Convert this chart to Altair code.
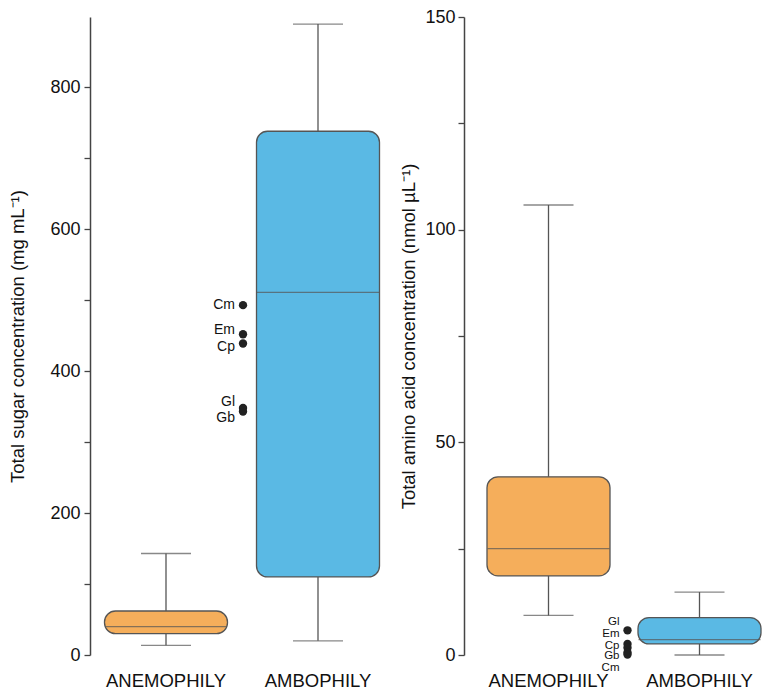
import altair as alt
import pandas as pd

categories = ["ANEMOPHILY", "AMBOPHILY"]
box_colors = ["#F5AE5B", "#5AB9E4"]

# Total sugar (mg mL-1)
sugar_min = [13.6, 20]
sugar_q1 = [30, 110]
sugar_median = [40, 511]
sugar_q3 = [62, 738]
sugar_max = [143, 889]
sugar_point_labels = ["Cm", "Em", "Cp", "Gl", "Gb"]
sugar_point_values = [493, 452, 439, 348, 343]
sugar_label_dy = [0, -4, 4, -6, 6]

# Total amino acid (nmol uL-1)
amino_min = [9.3, 0]
amino_q1 = [18.6, 2.6]
amino_median = [25, 3.6]
amino_q3 = [41.9, 8.8]
amino_max = [105.8, 14.8]
amino_point_labels = ["Gl", "Em", "Cp", "Gb", "Cm"]
amino_point_values = [5.8, 2.6, 1.7, 0.6, 0.1]
amino_label_dy = [-8, -10, -2, 4, 13]

FONT = "Liberation Sans"
LINE = "#555555"


def panel(mins, q1s, meds, q3s, maxs, plabels, pvals, pdy, title, ymax,
          tick_step, label_step, width, height, shift, title_pad, label_pad,
          pt_offset, pfont):
    df = pd.DataFrame({
        "cat": categories, "min": mins, "q1": q1s, "median": meds,
        "q3": q3s, "max": maxs, "color": box_colors,
    })
    xs = alt.Scale(domain=categories, paddingInner=0, paddingOuter=0)
    ys = alt.Scale(domain=[0, ymax], nice=False, zero=True)
    xax = alt.Axis(title=None, domain=False, ticks=False, tickSize=0, labelAngle=0,
                   labelFontSize=18.5, labelFont=FONT, labelColor="#111111",
                   labelPadding=16, labelBaseline="top", labelOffset=shift)
    yvals = list(range(0, int(ymax) + 1, tick_step))
    yax = alt.Axis(values=yvals,
                   labelExpr=f"datum.value % {label_step} == 0 ? datum.label : ''",
                   grid=False, tickSize=6, tickColor="#444444", tickWidth=1.3,
                   domainColor="#444444", domainWidth=1.5,
                   labelFontSize=18, labelFont=FONT, labelColor="#111111",
                   labelPadding=label_pad, title=title, titleFont=FONT,
                   titleFontSize=18.5, titleFontWeight="normal", titleColor="#111111",
                   titlePadding=title_pad)
    base = alt.Chart(df)
    x = alt.X("cat:N", scale=xs, axis=xax, sort=categories)
    whisk = base.mark_rule(color=LINE, strokeWidth=1.3, xOffset=shift).encode(
        x=x, y=alt.Y("min:Q", scale=ys, axis=yax), y2="max:Q")
    cap_lo = base.mark_tick(color=LINE, size=50, thickness=1.3, xOffset=shift).encode(
        x=x, y="min:Q")
    cap_hi = base.mark_tick(color=LINE, size=50, thickness=1.3, xOffset=shift).encode(
        x=x, y="max:Q")
    box = base.mark_bar(size=123, cornerRadius=11, stroke=LINE, strokeWidth=1.3,
                        xOffset=shift).encode(
        x=x, y="q1:Q", y2="q3:Q", color=alt.Color("color:N", scale=None))
    med = base.mark_tick(color=LINE, size=122, thickness=1.3, xOffset=shift).encode(
        x=x, y="median:Q")
    pdf = pd.DataFrame({"cat": ["AMBOPHILY"] * len(pvals), "v": pvals, "lab": plabels})
    pts = alt.Chart(pdf).mark_circle(size=70, color="#222222", opacity=1,
                                     xOffset=pt_offset).encode(x=x, y="v:Q")
    layers = [whisk, cap_lo, cap_hi, box, med, pts]
    for lab, v, d in zip(plabels, pvals, pdy):
        tdf = pd.DataFrame({"cat": ["AMBOPHILY"], "v": [v], "lab": [lab]})
        layers.append(alt.Chart(tdf).mark_text(
            align="right", baseline="middle", dy=d, xOffset=pt_offset - 8,
            font=FONT, fontSize=pfont, color="#111111").encode(x=x, y="v:Q", text="lab:N"))
    return alt.layer(*layers).properties(width=width, height=height)


left = panel(sugar_min, sugar_q1, sugar_median, sugar_q3, sugar_max,
             sugar_point_labels, sugar_point_values, sugar_label_dy,
             "Total sugar concentration (mg mL⁻¹)", 899, 100, 200, 304, 638, 0,
             22, 4, -75, 14)
right = panel(amino_min, amino_q1, amino_median, amino_q3, amino_max,
              amino_point_labels, amino_point_values, amino_label_dy,
              "Total amino acid concentration (nmol µL⁻¹)", 150, 25, 50, 302, 638, 9,
              6, 3, -63, 11.5)

chart = alt.hconcat(left, right, spacing=5).properties(
    padding={"left": 0, "top": 0, "right": 0, "bottom": 0},
    background="white",
).configure_view(stroke=None)

chart.save("out.html", embed_options={"renderer": "svg", "actions": False})
